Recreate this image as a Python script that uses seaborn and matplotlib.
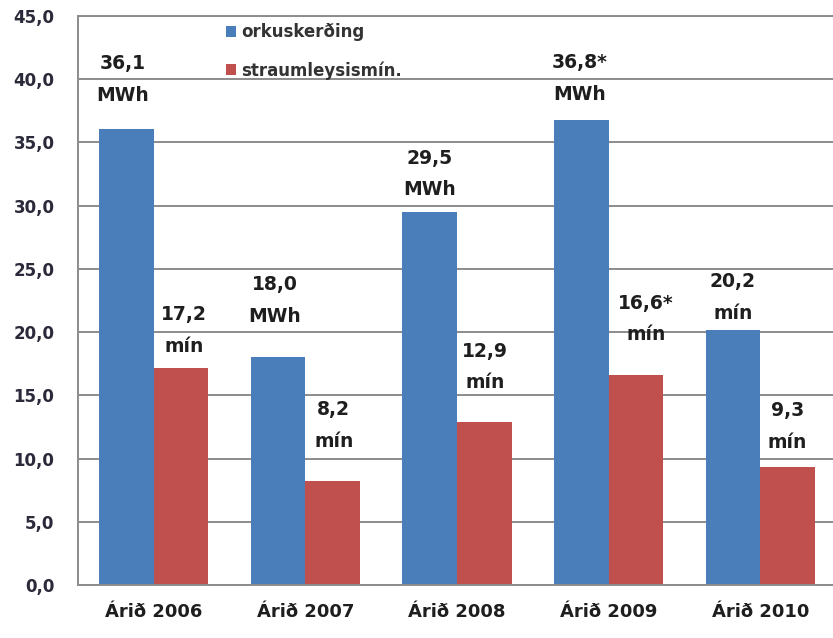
import matplotlib
matplotlib.use("Agg")
import matplotlib.pyplot as plt
from matplotlib.patches import Patch
import pandas as pd
import seaborn as sns

# Data
years = ["Árið 2006", "Árið 2007", "Árið 2008", "Árið 2009", "Árið 2010"]
series_names = ["orkuskerðing", "straumleysismín."]
energy_mwh = [36.1, 18.0, 29.5, 36.8, 20.2]
outage_min = [17.2, 8.2, 12.9, 16.6, 9.3]
energy_units = ["MWh", "MWh", "MWh", "MWh", "mín"]
outage_units = ["mín", "mín", "mín", "mín", "mín"]
value_marks = ["", "", "", "*", ""]
y_ticks = [0, 5, 10, 15, 20, 25, 30, 35, 40, 45]

# Label placement (pixel offsets of each label block from its bar top)
energy_lift = [49, 57, 38, 41, 32]
outage_lift = [37, 56, 55, 56, 41]
energy_dx = [-4, -3, 0, -2, 0]
outage_dx = [3, 1, 1, 10, 0]

BLUE = "#4A7EBB"
RED = "#C0504D"
GRID = "#8C8C8C"
TEXT = "#1E1E1E"

df = pd.DataFrame({
    "year": years * 2,
    "series": [series_names[0]] * len(years) + [series_names[1]] * len(years),
    "value": energy_mwh + outage_min,
})

sns.set_theme(style="white")
plt.rcParams["font.family"] = ["DejaVu Sans"]

W, H = 833, 638
fig = plt.figure(figsize=(W / 100, H / 100), dpi=100)
ax = fig.add_axes([78 / W, 1 - 585 / H, 758 / W, 569 / H])

sns.barplot(data=df, x="year", y="value", hue="series", palette=[BLUE, RED],
            width=0.72, saturation=1, ax=ax, legend=False, errorbar=None,
            linewidth=0, edgecolor="none")

ax.set_xlim(-0.5, len(years) - 0.5)
ax.set_ylim(0, 45)
ax.set_yticks(y_ticks)
ax.set_yticklabels([f"{v:.1f}".replace(".", ",") for v in y_ticks])
ax.set_xlabel("")
ax.set_ylabel("")
ax.yaxis.grid(True, color=GRID, linewidth=1.4)
ax.set_axisbelow(True)
for side in ["left", "bottom", "top"]:
    ax.spines[side].set_visible(True)
    ax.spines[side].set_color(GRID)
    ax.spines[side].set_linewidth(1.4)
ax.spines["right"].set_visible(False)
ax.tick_params(axis="y", length=0, pad=17, labelsize=12, labelcolor="#2A2A3A")
ax.tick_params(axis="x", length=0, pad=13, labelsize=13, labelcolor=TEXT)
for lbl in ax.get_yticklabels() + ax.get_xticklabels():
    lbl.set_fontweight("bold")

# Value labels above bars
groups = [
    (energy_mwh, energy_units, energy_lift, energy_dx),
    (outage_min, outage_units, outage_lift, outage_dx),
]
for container, (vals, units, lifts, dxs) in zip(ax.containers, groups):
    for i, patch in enumerate(container.patches):
        cx = patch.get_x() + patch.get_width() / 2
        top = patch.get_height()
        txt = f"{vals[i]:.1f}".replace(".", ",") + value_marks[i] + "\n" + units[i]
        ax.annotate(txt, xy=(cx, top), xytext=(dxs[i], lifts[i]),
                    textcoords="offset pixels", ha="center", va="center",
                    fontsize=13.5, fontweight="bold", color=TEXT,
                    linespacing=1.85, annotation_clip=False)

handles = [Patch(facecolor=BLUE, edgecolor="none"), Patch(facecolor=RED, edgecolor="none")]
ax.legend(handles, series_names, loc="upper left",
          bbox_to_anchor=(226 / W, 1 - 23 / H), bbox_transform=fig.transFigure,
          frameon=False, handlelength=0.62, handleheight=0.62,
          handletextpad=0.3, labelspacing=1.2, borderpad=0, borderaxespad=0,
          prop={"weight": "bold", "size": 12})
for t in ax.get_legend().get_texts():
    t.set_color("#333333")

fig.savefig("out.png", dpi=100)
